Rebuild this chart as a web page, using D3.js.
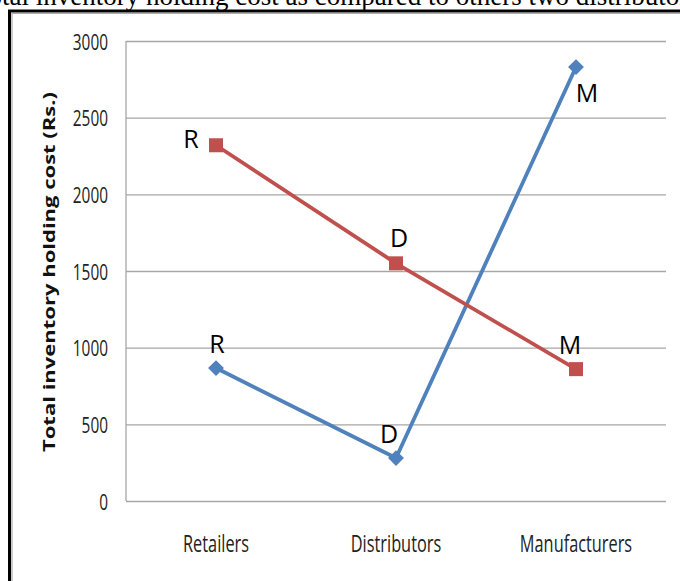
<!DOCTYPE html>
<html>
<head>
<meta charset="utf-8">
<script src="https://cdn.jsdelivr.net/npm/d3@7"></script>
<style>
  html, body { margin: 0; padding: 0; background: #fff; }
  svg { display: block; }
</style>
</head>
<body>
<svg id="chart" width="680" height="581"></svg>
<script>
// Supply-chain holding cost by tier
const categories = ["Retailers", "Distributors", "Manufacturers"];
const pointLabels = ["R", "D", "M"];
const blueSeries = [867, 280, 2830];
const redSeries = [2320, 1550, 860];
const yTicks = [0, 500, 1000, 1500, 2000, 2500, 3000];
const yTitle = "Total inventory holding cost (Rs.)";
const captionText = "total inventory holding cost as compared to others two distributors";

const svg = d3.select("#chart");
const W = 680, H = 581;

// caption line running under the top edge
svg.append("text")
  .attr("x", -19).attr("y", 5)
  .attr("font-family", "'Liberation Serif', 'Times New Roman', serif")
  .attr("font-size", 27)
  .attr("fill", "#000")
  .text(captionText);

// frame
svg.append("path")
  .attr("d", `M9.5,${H + 5} L9.5,11 L${W + 5},11`)
  .attr("fill", "none").attr("stroke", "#000").attr("stroke-width", 3);
svg.append("path")
  .attr("d", `M12,${H + 5} L12,13.5 L${W + 5},13.5`)
  .attr("fill", "none").attr("stroke", "#aaa").attr("stroke-width", 1.2);

const plot = { left: 126, right: 666, top: 41, bottom: 501 };

const x = d3.scaleBand().domain(categories).range([plot.left, plot.right]);
const y = d3.scaleLinear().domain([0, 3000]).range([plot.bottom, plot.top]);
const cx = c => x(c) + x.bandwidth() / 2;

const axisFont = "'Open Sans', 'Liberation Sans', sans-serif";

// horizontal gridlines and tick labels
const yAxis = d3.axisLeft(y).tickValues(yTicks).tickSize(-(plot.right - plot.left)).tickPadding(0).tickFormat(d3.format("d"));
const gy = svg.append("g").attr("transform", `translate(${plot.left},0)`).call(yAxis);
gy.select(".domain").remove();
gy.selectAll(".tick line").attr("stroke", "#a6a6a6").attr("stroke-width", 1.3);
gy.selectAll(".tick text").remove();
gy.selectAll(".tick").append("text")
  .attr("transform", "translate(-18,8) scale(0.7,1)")
  .attr("text-anchor", "end")
  .attr("font-family", axisFont)
  .attr("font-size", 22)
  .attr("fill", "#222")
  .text(d => d);

// vertical axis line
svg.append("line")
  .attr("x1", plot.left).attr("x2", plot.left)
  .attr("y1", y(3000)).attr("y2", y(0))
  .attr("stroke", "#a6a6a6").attr("stroke-width", 1.3);

// category labels
const xAxis = d3.axisBottom(x).tickSize(0).tickPadding(0);
const gx = svg.append("g").attr("transform", `translate(0,${plot.bottom})`).call(xAxis);
gx.select(".domain").remove();
gx.selectAll(".tick text").remove();
gx.selectAll(".tick").append("text")
  .attr("transform", "translate(0,51) scale(0.71,1)")
  .attr("text-anchor", "middle")
  .attr("font-family", axisFont)
  .attr("font-size", 23)
  .attr("fill", "#222")
  .text(d => d);

// y-axis title
svg.append("text")
  .attr("transform", `translate(55,272) rotate(-90)`)
  .attr("text-anchor", "middle")
  .attr("font-family", axisFont)
  .attr("font-weight", "bold")
  .attr("font-size", 16)
  .attr("textLength", 360)
  .attr("lengthAdjust", "spacingAndGlyphs")
  .attr("fill", "#111")
  .text(yTitle);

const line = d3.line().x((d, i) => cx(categories[i])).y(d => y(d));

const BLUE = "#4f81bd", RED = "#c0504d";

// blue series
svg.append("path").datum(blueSeries)
  .attr("d", line).attr("fill", "none")
  .attr("stroke", BLUE).attr("stroke-width", 3.8).attr("stroke-linejoin", "round");
svg.selectAll(".bm").data(blueSeries).enter().append("path")
  .attr("transform", (d, i) => `translate(${cx(categories[i])},${y(d)})`)
  .attr("d", d3.symbol().type(d3.symbolDiamond2).size(160))
  .attr("fill", BLUE);

// red series
svg.append("path").datum(redSeries)
  .attr("d", line).attr("fill", "none")
  .attr("stroke", RED).attr("stroke-width", 3.8).attr("stroke-linejoin", "round");
svg.selectAll(".rm").data(redSeries).enter().append("rect")
  .attr("x", (d, i) => cx(categories[i]) - 7)
  .attr("y", d => y(d) - 7)
  .attr("width", 14).attr("height", 14)
  .attr("fill", RED);

// point labels
const labelFont = "'Open Sans', 'Liberation Sans', sans-serif";
const redLabelOffsets = [[-25, 3], [3, -16], [-6, -15]];
const blueLabelOffsets = [[1, -15], [-7, -15], [11, 35]];
svg.selectAll(".rl").data(redSeries).enter().append("text")
  .attr("x", (d, i) => cx(categories[i]) + redLabelOffsets[i][0])
  .attr("y", (d, i) => y(d) + redLabelOffsets[i][1])
  .attr("text-anchor", "middle")
  .attr("font-family", labelFont).attr("font-size", 25).attr("fill", "#000")
  .text((d, i) => pointLabels[i]);
svg.selectAll(".bl").data(blueSeries).enter().append("text")
  .attr("x", (d, i) => cx(categories[i]) + blueLabelOffsets[i][0])
  .attr("y", (d, i) => y(d) + blueLabelOffsets[i][1])
  .attr("text-anchor", "middle")
  .attr("font-family", labelFont).attr("font-size", 25).attr("fill", "#000")
  .text((d, i) => pointLabels[i]);
</script>
</body>
</html>
